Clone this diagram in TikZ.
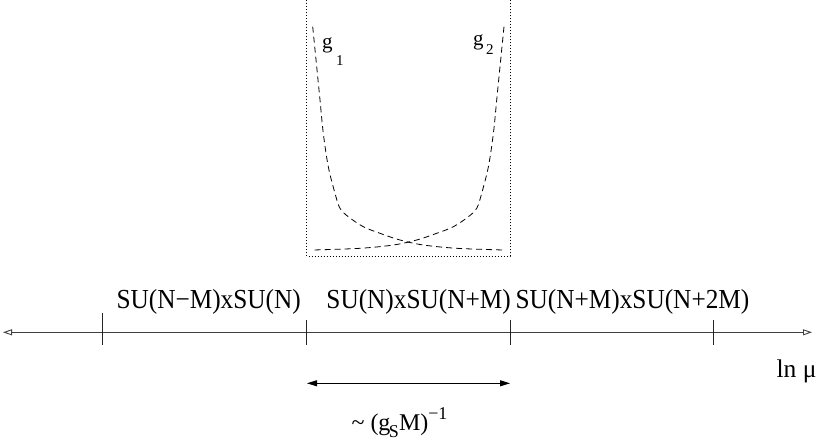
\documentclass[tikz,border=0pt]{standalone}
\usepackage{fontspec}
\setmainfont{Liberation Serif}
\usetikzlibrary{arrows.meta}
\tikzset{
  lbl/.style={inner sep=0pt, outer sep=0pt, anchor=base},
  axisline/.style={draw=black!75, line width=0.9pt, {Triangle[open,length=9pt,width=6pt]}-{Triangle[open,length=9pt,width=6pt]}},
  tickline/.style={draw=black!85, line width=0.9pt},
  scalearrow/.style={draw=black, line width=0.9pt, {Triangle[length=10pt,width=6pt]}-{Triangle[length=10pt,width=6pt]}},
  coupling/.style={draw=black, line width=0.8pt, dash pattern=on 6pt off 4pt},
  boxline/.style={draw=black, line width=0.8pt, dash pattern=on 1pt off 2pt},
}
\newcommand{\biglbl}[1]{\scalebox{0.92}[1]{\fontsize{27.5}{32}\selectfont #1}}
\begin{document}
\begin{tikzpicture}[x=1pt,y=-1pt]
\useasboundingbox (0,0) rectangle (817,441);
% dotted window
\coordinate (bl) at (306.7,256);
\coordinate (br) at (510,256);
\coordinate (tl) at (306.7,0);
\coordinate (tr) at (510,0);
\draw[boxline] (tl) -- (bl) -- (br) -- (tr);
% couplings
\draw[coupling] plot[smooth, tension=0.55] coordinates {(312.7,26.7) (316.7,66.7) (320,100) (323.3,133.3) (328.3,166.7) (335,193.3) (340,208.3) (348.3,216.7) (363.3,226.7) (380,233.3) (400,240) (423.3,245) (456.7,248.3) (503.3,250)};
\draw[coupling] plot[smooth, tension=0.55] coordinates {(504,26.7) (500,66.7) (496.7,100) (493.4,133.3) (488.4,166.7) (481.7,193.3) (476.7,208.3) (468.4,216.7) (453.4,226.7) (436.7,233.3) (416.7,240) (393.4,245) (360,248.3) (313.4,250)};
\node[lbl, anchor=base west] (g1) at (322,49) {\fontsize{21}{24}\selectfont g\kern3.5pt\raisebox{-17pt}{\fontsize{15}{17}\selectfont 1}};
\node[lbl, anchor=base west] (g2) at (473,46) {\fontsize{21}{24}\selectfont g\kern2.5pt\raisebox{-9pt}{\fontsize{15}{17}\selectfont 2}};
% axis
\coordinate (axL) at (3,332.3);
\coordinate (axR) at (812,332.3);
\draw[axisline] (axL) -- (axR);
\coordinate (t1a) at (102.5,313); \coordinate (t1b) at (102.5,345);
\coordinate (t2a) at (306.7,320); \coordinate (t2b) at (306.7,345);
\coordinate (t3a) at (510,320); \coordinate (t3b) at (510,345);
\coordinate (t4a) at (713.3,320); \coordinate (t4b) at (713.3,345);
\draw[tickline] (t1a) -- (t1b);
\draw[tickline] (t2a) -- (t2b);
\draw[tickline] (t3a) -- (t3b);
\draw[tickline] (t4a) -- (t4b);
% region labels
\node[lbl] (r1) at (208.7,308.3) {\biglbl{SU(N−M)xSU(N)}};
\node[lbl] (r2) at (418.6,308.3) {\biglbl{SU(N)xSU(N+M)}};
\node[lbl] (r3) at (632.5,308.3) {\biglbl{SU(N+M)xSU(N+2M)}};
\node[lbl, anchor=base east] (lnmu) at (816.5,377.5) {\fontsize{25.5}{30}\selectfont ln μ};
% scale arrow
\coordinate (s1) at (307,383.3);
\coordinate (s2) at (510,383.3);
\draw[scalearrow] (s1) -- (s2);
\node[lbl] (sc) at (399.5,430) {\fontsize{24}{28}\selectfont \textasciitilde\ (g\kern-1.5pt\raisebox{-7.5pt}{\fontsize{18}{20}\selectfont S}M)\raisebox{11pt}{\fontsize{18}{20}\selectfont −1}};
\end{tikzpicture}
\end{document}
